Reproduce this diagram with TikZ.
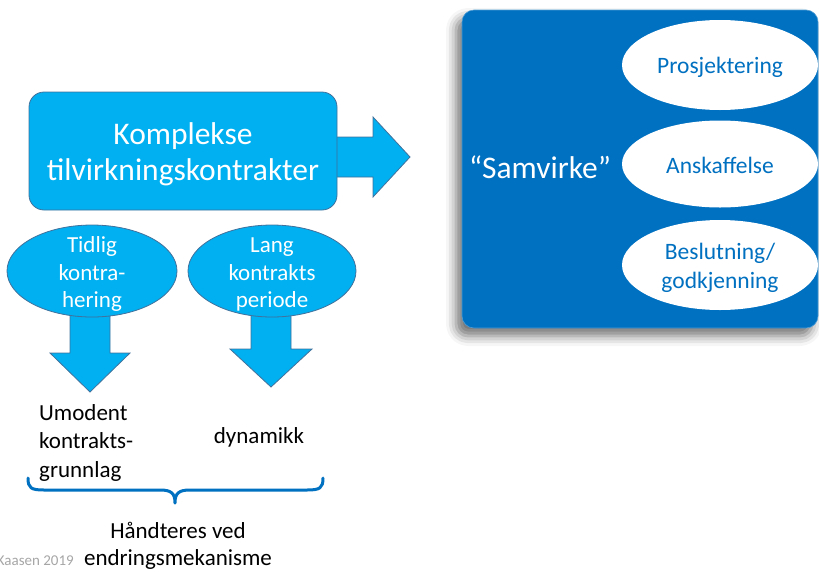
\documentclass[tikz,border=0pt]{standalone}
\usepackage{fontspec}
\setmainfont{Carlito}
\usetikzlibrary{shapes.geometric,shadows.blur}
\definecolor{lblue}{HTML}{00B0F0}
\definecolor{lborder}{HTML}{41719C}
\definecolor{dblue}{HTML}{0070C0}
\begin{document}
\begin{tikzpicture}[x=1pt,y=-1pt,
  blockarrow/.style={fill=lblue,draw=lborder,line width=0.8pt,line join=miter},
  lbox/.style={rectangle,rounded corners=15pt,fill=lblue,draw=lborder,line width=0.8pt,inner sep=0pt},
  lell/.style={ellipse,fill=lblue,draw=lborder,line width=0.8pt,inner sep=0pt},
  well/.style={ellipse,fill=white,inner sep=0pt},
  bigwhite/.style={inner sep=0pt,anchor=base,text=white,font=\fontsize{31.5}{36}\selectfont},
  midwhite/.style={inner sep=0pt,anchor=base,text=white,font=\fontsize{23}{27}\selectfont},
  bluetxt/.style={inner sep=0pt,anchor=base,text=dblue,font=\fontsize{23.5}{27}\selectfont},
  blacktxt/.style={inner sep=0pt,text=black,font=\fontsize{23}{27}\selectfont}
]
\useasboundingbox (0,0) rectangle (819,571);

% right box with shadow
\node[rectangle,rounded corners=12pt,fill=dblue,draw=dblue!70!white,line width=0.6pt,
  minimum width=356pt,minimum height=318pt,inner sep=0pt,
  blur shadow={shadow xshift=-6pt,shadow yshift=-8pt,shadow blur radius=10pt,shadow opacity=55}]
  (sbox) at (640,169) {};
\node[well,minimum width=196pt,minimum height=90pt] (e1) at (720,65) {};
\node[well,minimum width=196pt,minimum height=87pt] (e2) at (720,164) {};
\node[well,minimum width=196pt,minimum height=90pt] (e3) at (720,265) {};
\node[bluetxt] (t1) at (720,73) {Prosjektering};
\node[bluetxt] (t2) at (720,173) {Anskaffelse};
\node[bluetxt] (t3a) at (720,259) {Beslutning/};
\node[bluetxt] (t3b) at (720,288) {godkjenning};
\node[bigwhite] (samv) at (540,178) {“Samvirke”};

% right block arrow
\draw[blockarrow] (330,137) -- (373,137) -- (373,117) -- (410,157) -- (373,197) -- (373,177) -- (330,177) -- cycle;
% main box
\node[lbox,minimum width=308pt,minimum height=118pt] (kbox) at (183,151) {};
\node[bigwhite] (k1) at (183,144) {Komplekse};
\node[bigwhite] (k2) at (183,180) {tilvirkningskontrakter};

% down arrows
\draw[blockarrow] (70,300) -- (110,300) -- (110,353) -- (130,353) -- (90,392) -- (50,353) -- (70,353) -- cycle;
\draw[blockarrow] (251,300) -- (291,300) -- (291,349) -- (312,349) -- (271,387) -- (230,349) -- (251,349) -- cycle;

% left ellipses
\node[lell,minimum width=170pt,minimum height=92pt] (el1) at (92,271) {};
\node[lell,minimum width=168pt,minimum height=92pt] (el2) at (272,271) {};
\node[midwhite] (a1) at (92,252) {Tidlig};
\node[midwhite] (a2) at (92,280) {kontra-};
\node[midwhite] (a3) at (92,307) {hering};
\node[midwhite] (b1) at (272,252) {Lang};
\node[midwhite] (b2) at (272,280) {kontrakts};
\node[midwhite] (b3) at (272,307) {periode};

% bottom texts
\node[blacktxt,anchor=base west] (u1) at (39,420) {Umodent};
\node[blacktxt,anchor=base west] (u2) at (39,448) {kontrakts-};
\node[blacktxt,anchor=base west] (u3) at (39,477) {grunnlag};
\node[blacktxt,anchor=base] (dyn) at (259,443) {dynamikk};

% brace
\draw[dblue,line width=3pt,line cap=round,line join=round]
  (28,478) .. controls (28,488) and (31,490) .. (44,490) -- (160,490)
  .. controls (171,490) and (175,493) .. (175,503)
  .. controls (175,493) and (179,490) .. (190,490) -- (307,490)
  .. controls (320,490) and (323,488) .. (323,478);

\node[blacktxt,anchor=base] (h1) at (178,538) {Håndteres ved};
\node[blacktxt,anchor=base] (h2) at (178,565) {endringsmekanisme};
\node[inner sep=0pt,anchor=base east,text=black!35,font=\fontsize{15}{18}\selectfont] (kaas) at (74,565) {Kaasen 2019};
\end{tikzpicture}
\end{document}
